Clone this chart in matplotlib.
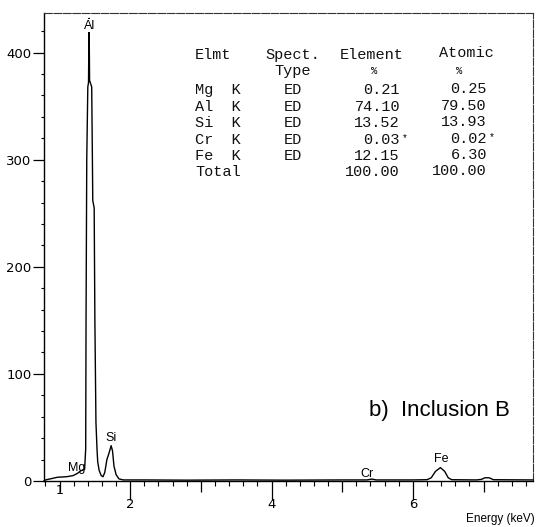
import matplotlib
matplotlib.use('Agg')
import matplotlib.pyplot as plt
from matplotlib.ticker import MultipleLocator, FixedLocator

# ---------------------------------------------------------------------------
# EDS spectrum, inclusion B
# ---------------------------------------------------------------------------
energy_kev = [0.78, 0.80, 0.87, 0.97, 1.10, 1.19, 1.25, 1.30, 1.355, 1.37, 1.375,
              1.385, 1.40, 1.41, 1.418, 1.425, 1.455, 1.465, 1.47, 1.49, 1.50,
              1.515, 1.53, 1.54, 1.56, 1.59, 1.615, 1.64, 1.67, 1.70, 1.73,
              1.75, 1.77, 1.80, 1.84, 1.90, 2.20, 2.80, 3.50, 4.20, 5.00, 5.35,
              5.42, 5.48, 6.00, 6.20, 6.26, 6.32, 6.39, 6.45, 6.50, 6.55, 6.90,
              6.97, 7.02, 7.08, 7.14, 7.70]
counts = [0, 1, 2, 3.5, 4, 5, 7, 9.5, 11, 30, 150,
          300, 368, 372, 432, 374, 368, 300, 262, 255, 150,
          55, 30, 18, 10, 5, 4, 8, 20, 26, 33,
          28, 14, 6, 2, 1, 1, 0.8, 1, 0.8, 1, 1,
          1.8, 1, 1, 1.2, 3, 9, 12.5, 9, 3, 1.2, 1,
          1.5, 3, 3, 1.2, 1]

# peak labels: (text, energy, counts)
peak_names = ['Al', 'Mg', 'Si', 'Cr', 'Fe']
peak_x = [1.42, 1.24, 1.73, 5.35, 6.40]
peak_y = [425, 12, 40, 6.5, 20.5]

# quantification table
tbl_elmt = ['Mg  K', 'Al  K', 'Si  K', 'Cr  K', 'Fe  K']
tbl_type = ['ED', 'ED', 'ED', 'ED', 'ED']
tbl_element = ['0.21', '74.10', '13.52', '0.03', '12.15']
tbl_atomic = ['0.25', '79.50', '13.93', '0.02', '6.30']
tbl_flag = ['', '', '', '*', '']
tbl_total = ['100.00', '100.00']

yticks = [0, 100, 200, 300, 400]
xtick_labels = {2: '2', 4: '4', 6: '6'}

W, H = 537, 527
fig = plt.figure(figsize=(W / 100, H / 100), dpi=100)
fig.patch.set_facecolor('white')
ax = fig.add_axes([44 / W, 1 - 481 / H, (533 - 44) / W, (481 - 13) / H])

ax.plot(energy_kev, counts, color='black', linewidth=1.0, clip_on=False, zorder=3)

ax.set_xlim(0.78, 7.70)
ax.set_ylim(0, 437)

# spines: scanned look, dashed top/right
for side in ['top', 'right']:
    ax.spines[side].set_linestyle((0, (7, 1.5)))
    ax.spines[side].set_linewidth(0.8)
    ax.spines[side].set_color('#333333')
ax.spines['left'].set_linewidth(1.0)
ax.spines['bottom'].set_linewidth(1.0)

# ticks
ax.yaxis.set_major_locator(FixedLocator(yticks))
ax.yaxis.set_minor_locator(MultipleLocator(20))
ax.set_yticklabels([str(v) for v in yticks])
ax.tick_params(axis='y', which='major', direction='out', length=8, width=0.9,
               labelsize=9.5, pad=1)
ax.tick_params(axis='y', which='minor', direction='out', length=2.5, width=0.8)

ax.xaxis.set_major_locator(FixedLocator([1, 2, 3, 4, 5, 6, 7]))
ax.xaxis.set_minor_locator(MultipleLocator(0.2))
ax.set_xticklabels([xtick_labels.get(v, '') for v in [1, 2, 3, 4, 5, 6, 7]])
ax.tick_params(axis='x', which='major', direction='out', length=8, width=0.9,
               labelsize=9.5, pad=4)
ax.tick_params(axis='x', which='minor', direction='out', length=3.5, width=0.8)
for v, tk in zip([1, 2, 3, 4, 5, 6, 7], ax.xaxis.get_major_ticks()):
    if v in xtick_labels:
        tk.tick1line.set_markersize(14)
ax.text(1.0, -3, '1', ha='center', va='top', fontsize=9, transform=ax.transData,
        clip_on=False)

# peak labels
for name, x, y in zip(peak_names, peak_x, peak_y):
    ax.text(x, y, name, ha='center', va='center', fontsize=9,
            family='Liberation Sans', zorder=4,
            bbox=dict(facecolor='white', edgecolor='none', pad=0.3) if name == 'Al' else None)

ax.text(7.37, 66, 'b)  Inclusion B', ha='right', va='center', fontsize=16,
        family='Liberation Sans')

# table in pixel positions
def px(x, y):
    return x / W, 1 - y / H

mono = dict(family='Liberation Mono', fontsize=11, va='center', color='#111111')
row_y = [90, 107, 123, 140, 156]
fig.text(*px(195, 55), 'Elmt', ha='left', **mono)
fig.text(*px(293, 55), 'Spect.', ha='center', **mono)
fig.text(*px(293, 71), 'Type', ha='center', **mono)
fig.text(*px(372, 55), 'Element', ha='center', **mono)
fig.text(*px(374, 71), '%', ha='center', family='Liberation Mono', fontsize=7.5,
         va='center')
fig.text(*px(466, 53), 'Atomic', ha='center', **mono)
fig.text(*px(459, 71), '%', ha='center', family='Liberation Mono', fontsize=7.5,
         va='center')
for y, el, tp, ev, av, fl in zip(row_y, tbl_elmt, tbl_type, tbl_element,
                                 tbl_atomic, tbl_flag):
    fig.text(*px(195, y), el, ha='left', **mono)
    fig.text(*px(293, y), tp, ha='center', **mono)
    fig.text(*px(400, y), ev, ha='right', **mono)
    fig.text(*px(487, y - 1), av, ha='right', **mono)
    if fl:
        fig.text(*px(402, y - 2), fl, ha='left', family='Liberation Mono',
                 fontsize=7, va='center')
        fig.text(*px(489, y - 3), fl, ha='left', family='Liberation Mono',
                 fontsize=7, va='center')
fig.text(*px(195, 172), 'Total', ha='left', **mono)
fig.text(*px(400, 172), tbl_total[0], ha='right', **mono)
fig.text(*px(487, 171), tbl_total[1], ha='right', **mono)

fig.text(*px(535, 519), 'Energy (keV)', ha='right', va='center', fontsize=8.5,
         family='Liberation Sans')

fig.savefig('out.png', dpi=100, facecolor='white')
